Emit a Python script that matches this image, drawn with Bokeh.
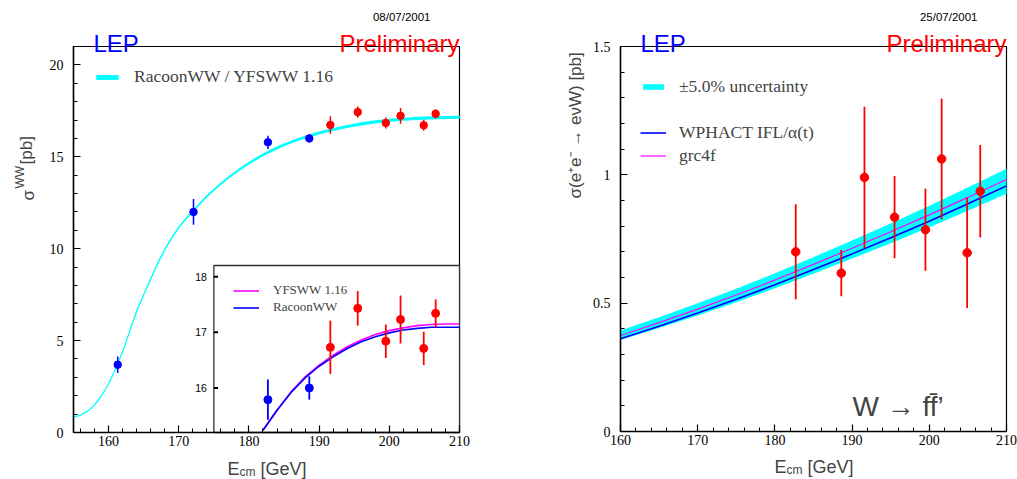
import numpy as np
from bokeh.plotting import figure
from bokeh.models import (Range1d, SingleIntervalTicker, Label, Legend, LegendItem,
                          CustomJSTickFormatter)
from bokeh.layouts import row
from bokeh.embed import file_html
from bokeh.resources import INLINE
from bokeh.core.properties import value

# ---------------- data: left panel, sigma(WW) ----------------
ww_energy = [161.3, 172.1, 182.7, 188.6, 191.6, 195.5, 199.5, 201.6, 204.9, 206.6]
ww_sigma = [3.69, 12.0, 15.79, 16.0, 16.73, 17.43, 16.84, 17.23, 16.71, 17.34]
ww_error = [0.45, 0.70, 0.36, 0.21, 0.48, 0.31, 0.30, 0.43, 0.30, 0.25]
ww_status = ["final", "final", "final", "final",
             "preliminary", "preliminary", "preliminary", "preliminary", "preliminary", "preliminary"]

theory_energy = [155, 156, 157, 158, 159, 160, 161, 162, 163, 164, 165, 166, 167, 168, 169, 170,
                 171, 172, 173, 174, 175, 176, 177, 178, 179, 180, 181, 182, 183, 184, 185, 186,
                 187, 188, 190, 192, 194, 196, 198, 200, 202, 204, 206, 208, 210]
theory_sigma = [0.83, 0.95, 1.15, 1.5, 2.0, 2.65, 3.45, 4.4, 5.5, 6.6, 7.5, 8.35, 9.2, 9.95, 10.6, 11.15,
                11.62, 12.05, 12.45, 12.85, 13.2, 13.53, 13.85, 14.13, 14.4, 14.65, 14.88, 15.1, 15.3,
                15.48, 15.65, 15.8, 15.94, 16.07, 16.3, 16.49, 16.65, 16.79, 16.9, 16.98, 17.04, 17.09,
                17.12, 17.14, 17.15]
theory_rel_width = 0.005

inset_energy = [182, 184, 186, 188, 190, 192, 194, 196, 198, 200, 202, 204, 206, 208, 210]
yfsww_sigma = [15.24, 15.6, 15.93, 16.2, 16.41, 16.59, 16.74, 16.86, 16.96, 17.03, 17.08, 17.12, 17.14, 17.15, 17.15]
racoon_sigma = [15.24, 15.6, 15.92, 16.18, 16.39, 16.56, 16.71, 16.83, 16.92, 16.99, 17.04, 17.07, 17.09, 17.09, 17.09]
inset_yticks = [16, 17, 18]

# ---------------- data: right panel, sigma(e nu W) ----------------
enw_energy = [182.7, 188.6, 191.6, 195.5, 199.5, 201.6, 204.9, 206.6]
enw_sigma = [0.70, 0.617, 0.99, 0.835, 0.786, 1.062, 0.696, 0.936]
enw_error = [0.185, 0.09, 0.275, 0.16, 0.16, 0.235, 0.215, 0.18]

enw_curve_energy = [160, 165, 170, 175, 180, 185, 190, 195, 200, 205, 210]
wphact_sigma = [0.361, 0.41, 0.462, 0.515, 0.572, 0.631, 0.692, 0.755, 0.819, 0.887, 0.957]
grc4f_sigma = [0.374, 0.424, 0.477, 0.532, 0.59, 0.651, 0.714, 0.778, 0.844, 0.912, 0.982]
band_center = [0.375, 0.424, 0.476, 0.53, 0.587, 0.647, 0.709, 0.772, 0.838, 0.905, 0.975]
band_rel_uncertainty = 0.05

# ---------------- style / layout ----------------
SERIF = "Liberation Serif"
SANS = "Liberation Sans"
BLUE = "#0000ff"
RED = "#ff0000"
CYAN = "#00ffff"
MAGENTA = "#ff00ff"
status_color = {"final": BLUE, "preliminary": RED}

H = 479
W1, W2 = 540, 477
L_X = (155, 210)
L_Y = (0, 21)
R_X = (160, 210)
R_Y = (0, 1.5)
BOX1 = dict(left=73, right=459, top=46, bottom=432)    # pixel box of left frame
BOX2 = dict(left=80, right=466, top=46, bottom=431)    # pixel box of right frame (local)
INSET_X = (175, 210)
INSET_Y = (15.2, 18.2)
INSET_TOP_PX = 265


def full_ranges(xr, yr, box, w, h):
    kx = (box["right"] - box["left"]) / (xr[1] - xr[0])
    ky = (box["bottom"] - box["top"]) / (yr[1] - yr[0])
    x = Range1d(xr[0] - box["left"] / kx, xr[1] + (w - box["right"]) / kx)
    y = Range1d(yr[0] - (h - box["bottom"]) / ky, yr[1] + box["top"] / ky)
    return x, y, ky


def make_fig(xr, yr, box, w, yinterval):
    x_range, y_range, ky = full_ranges(xr, yr, box, w, H)
    p = figure(width=w, height=H, x_range=x_range, y_range=y_range,
               min_border=0, min_border_left=0, min_border_right=0,
               min_border_top=0, min_border_bottom=0,
               output_backend="svg", toolbar_location=None)
    p.grid.visible = False
    p.outline_line_color = None
    p.xaxis.ticker = SingleIntervalTicker(interval=10, num_minor_ticks=5)
    p.yaxis.ticker = SingleIntervalTicker(interval=yinterval, num_minor_ticks=5)
    p.xaxis.fixed_location = yr[0]
    p.xaxis.bounds = xr
    p.yaxis.fixed_location = xr[0]
    p.yaxis.bounds = yr
    for ax in (p.xaxis[0], p.yaxis[0]):
        ax.axis_line_width = 1.5
        ax.axis_line_color = "black"
        ax.major_tick_in = 7
        ax.major_tick_out = 0
        ax.minor_tick_in = 4
        ax.minor_tick_out = 0
        ax.major_tick_line_width = 1.2
        ax.minor_tick_line_width = 1
        ax.major_label_text_font = SERIF
        ax.major_label_text_font_size = "14px"
        ax.major_label_text_color = "black"
    p.xaxis.major_label_standoff = 3
    p.yaxis.major_label_standoff = 10
    # frame box (top and right sides)
    p.quad(left=[xr[0]], right=[xr[1]], bottom=[yr[0]], top=[yr[1]],
           fill_color=None, line_color="black", line_width=1.2)
    return p, ky


def header(p, xr, yr, date):
    p.add_layout(Label(x=xr[1], y=yr[1], x_offset=-29, y_offset=30, text=date,
                       text_font=SANS, text_font_size="11.5px", text_align="right",
                       text_baseline="alphabetic", text_color="black"))
    p.add_layout(Label(x=xr[0], y=yr[1], x_offset=20, y_offset=3, text="LEP",
                       text_font=SANS, text_font_size="24px", text_align="left",
                       text_baseline="alphabetic", text_color=BLUE))
    p.add_layout(Label(x=xr[1], y=yr[1], x_offset=0, y_offset=3, text="Preliminary",
                       text_font=SANS, text_font_size="24px", text_align="right",
                       text_baseline="alphabetic", text_color=RED))


def xlabel(p, xr, yr, dy):
    p.add_layout(Label(x=xr[0], y=yr[0], x_offset=154, y_offset=dy, text="E",
                       text_font=SANS, text_font_size="18px", text_baseline="alphabetic"))
    p.add_layout(Label(x=xr[0], y=yr[0], x_offset=166, y_offset=dy - 3, text="cm",
                       text_font=SANS, text_font_size="12px", text_baseline="alphabetic"))
    p.add_layout(Label(x=xr[0], y=yr[0], x_offset=187, y_offset=dy, text="[GeV]",
                       text_font=SANS, text_font_size="18px", text_baseline="alphabetic"))


# ================= left figure =================
p1, ky1 = make_fig(L_X, L_Y, BOX1, W1, 5)

t_e = np.array(theory_energy)
t_s = np.array(theory_sigma)
band_l = p1.varea(x=t_e, y1=t_s * (1 - theory_rel_width), y2=t_s * (1 + theory_rel_width),
                  fill_color=CYAN)
p1.line(x=t_e, y=t_s, line_color=CYAN, line_width=1.3)

e = np.array(ww_energy)
s = np.array(ww_sigma)
er = np.array(ww_error)
cols = [status_color[k] for k in ww_status]
p1.segment(x0=e, y0=s - er, x1=e, y1=s + er, line_color=cols, line_width=1.5)
p1.scatter(x=e, y=s, size=7.5, fill_color=cols, line_color=cols)

# inset, mapped into the lower right corner of the left frame
inset_target_top = L_Y[0] + (BOX1["bottom"] - INSET_TOP_PX) / ky1
sub = p1.subplot(x_source=Range1d(*INSET_X), y_source=Range1d(*INSET_Y),
                 x_target=Range1d(*INSET_X), y_target=Range1d(L_Y[0], inset_target_top))
sub.quad(left=[INSET_X[0]], right=[INSET_X[1]], bottom=[INSET_Y[0]], top=[INSET_Y[1]],
         fill_color="white", line_color="#333333", line_width=1.3)
ticks = np.array(inset_yticks, dtype=float)
sub.segment(x0=[INSET_X[0]] * len(ticks), y0=ticks, x1=[INSET_X[0] + 0.6] * len(ticks), y1=ticks,
            line_color="black", line_width=2)
sub.text(x=[INSET_X[0]] * len(ticks), y=ticks, text=[str(t) for t in inset_yticks],
         x_offset=-7, text_align="right", text_baseline="middle",
         text_font=value(SANS), text_font_size="10.5px", text_color="black")
r_yfs = sub.line(x=inset_energy, y=yfsww_sigma, line_color=MAGENTA, line_width=1.6)
r_rac = sub.line(x=inset_energy, y=racoon_sigma, line_color=BLUE, line_width=1.6)
mask = e >= INSET_X[0]
icols = [c for c, m in zip(cols, mask) if m]
sub.segment(x0=e[mask], y0=(s - er)[mask], x1=e[mask], y1=(s + er)[mask], line_color=icols, line_width=1.8)
sub.scatter(x=e[mask], y=s[mask], size=8, fill_color=icols, line_color=icols)

leg1 = Legend(items=[LegendItem(label="RacoonWW / YFSWW 1.16", renderers=[band_l])],
              location=(93, 392), glyph_width=28, glyph_height=6, label_height=20,
              label_standoff=13, padding=0, margin=0, spacing=0,
              label_text_font=SERIF, label_text_font_size="17.5px",
              border_line_alpha=0, background_fill_alpha=0)
leg_in = Legend(items=[LegendItem(label="YFSWW 1.16", renderers=[r_yfs]),
                       LegendItem(label="RacoonWW", renderers=[r_rac])],
                location=(233, 163.5), glyph_width=26, glyph_height=17, label_height=17,
                label_standoff=14, padding=0, margin=0, spacing=0,
                label_text_font=SERIF, label_text_font_size="13px",
                border_line_alpha=0, background_fill_alpha=0)
p1.add_layout(leg1, "center")
p1.add_layout(leg_in, "center")

header(p1, L_X, L_Y, "08/07/2001")
xlabel(p1, L_X, L_Y, -36.5)
# y label: sigma^WW [pb]
p1.add_layout(Label(x=L_X[0], y=L_Y[1], x_offset=-45, y_offset=-154, angle=np.pi / 2,
                    text="σ", text_font=SANS, text_font_size="17px", text_baseline="alphabetic"))
p1.add_layout(Label(x=L_X[0], y=L_Y[1], x_offset=-54, y_offset=-142, angle=np.pi / 2,
                    text="WW", text_font=SANS, text_font_size="12px", text_baseline="alphabetic"))
p1.add_layout(Label(x=L_X[0], y=L_Y[1], x_offset=-47, y_offset=-118, angle=np.pi / 2,
                    text="[pb]", text_font=SANS, text_font_size="17px", text_baseline="alphabetic"))

# ================= right figure =================
p2, ky2 = make_fig(R_X, R_Y, BOX2, W2, 0.5)
p2.yaxis.formatter = CustomJSTickFormatter(code="return String(Math.round(tick*10)/10);")

ce = np.array(enw_curve_energy)
bc = np.array(band_center)
band_r = p2.varea(x=ce, y1=bc * (1 - band_rel_uncertainty), y2=bc * (1 + band_rel_uncertainty),
                  fill_color=CYAN)
r_wph = p2.line(x=ce, y=wphact_sigma, line_color=BLUE, line_width=1.6)
r_grc = p2.line(x=ce, y=grc4f_sigma, line_color=MAGENTA, line_width=1.2)
r_blank = p2.line(x=[], y=[], line_alpha=0)

ee = np.array(enw_energy)
ss = np.array(enw_sigma)
ee_err = np.array(enw_error)
p2.segment(x0=ee, y0=ss - ee_err, x1=ee, y1=ss + ee_err, line_color=RED, line_width=1.8)
p2.scatter(x=ee, y=ss, size=8.5, fill_color=RED, line_color=RED)

leg2 = Legend(items=[LegendItem(label="±5.0% uncertainty", renderers=[band_r]),
                     LegendItem(label=" ", renderers=[r_blank]),
                     LegendItem(label="WPHACT IFL/α(t)", renderers=[r_wph]),
                     LegendItem(label="grc4f", renderers=[r_grc])],
              location=(100, 312.5), glyph_width=26, glyph_height=7, label_height=23,
              label_standoff=13, padding=0, margin=0, spacing=0,
              label_text_font=SERIF, label_text_font_size="17.5px",
              border_line_alpha=0, background_fill_alpha=0)
p2.add_layout(leg2, "center")

header(p2, R_X, R_Y, "25/07/2001")
xlabel(p2, R_X, R_Y, -35.5)
p2.add_layout(Label(x=R_X[0], y=R_Y[1], x_offset=-45, y_offset=-152, angle=np.pi / 2,
                    text="σ(e⁺e⁻ → eνW) [pb]", text_font=SANS, text_font_size="17px",
                    text_baseline="alphabetic"))
p2.add_layout(Label(x=R_X[0], y=R_Y[0], x_offset=232, y_offset=25,
                    text="W → ff\u0304’", text_font=SANS, text_font_size="28px",
                    text_baseline="alphabetic"))

layout = row(p1, p2)
open("out.html", "w").write(file_html(layout, INLINE))
